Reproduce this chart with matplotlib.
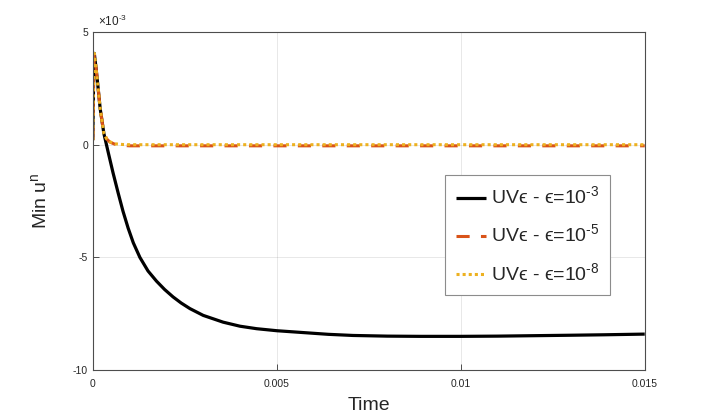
#!/usr/bin/env python3
"""Min u^n over time for three epsilon values (MATLAB-style line plot)."""

import matplotlib
matplotlib.use("Agg")
import matplotlib.pyplot as plt

# ---------------------------------------------------------------------------
# Data (time in ms, values in units of 1e-3)
# ---------------------------------------------------------------------------

t_eps3 = [0, 0.02, 0.04, 0.08, 0.12, 0.2, 0.3, 0.42, 0.55, 0.69, 0.82,
          0.96, 1.1, 1.28, 1.5, 1.73, 1.95, 2.18, 2.4, 2.64, 3.0, 3.54,
          4.0, 4.45, 5.0, 5.7, 6.4, 7.07, 8.0, 8.9, 10.0, 11.0, 12.0,
          13.0, 13.9, 15.0]
u_eps3 = [0.2, 2.8, 4.05, 3.5, 2.9, 1.6, 0.5, -0.35, -1.25, -2.15, -2.95,
          -3.7, -4.35, -5.0, -5.6, -6.05, -6.42, -6.75, -7.02, -7.27, -7.57,
          -7.87, -8.05, -8.16, -8.25, -8.33, -8.41, -8.46, -8.49, -8.5,
          -8.5, -8.49, -8.47, -8.45, -8.43, -8.4]

t_eps5 = [0, 0.02, 0.04, 0.08, 0.12, 0.2, 0.3, 0.38, 0.46, 0.6, 0.8, 1.0,
          2.0, 4.0, 6.0, 8.0, 10.0, 12.0, 15.0]
u_eps5 = [0.2, 2.8, 4.05, 3.5, 2.9, 1.6, 0.5, 0.25, 0.12, 0.02, -0.03,
          -0.05, -0.05, -0.05, -0.05, -0.05, -0.05, -0.05, -0.05]

t_eps8 = [0, 0.02, 0.04, 0.08, 0.12, 0.2, 0.3, 0.38, 0.46, 0.6, 0.8, 1.0,
          2.0, 4.0, 6.0, 8.0, 10.0, 12.0, 15.0]
u_eps8 = [0.2, 2.8, 4.05, 3.5, 2.9, 1.6, 0.5, 0.25, 0.13, 0.04, 0.01,
          0.0, 0.0, 0.0, 0.0, 0.0, 0.0, 0.0, 0.0]

labels = ['UV\u03f5 - \u03f5=10$^{\\text{-3}}$',
          'UV\u03f5 - \u03f5=10$^{\\text{-5}}$',
          'UV\u03f5 - \u03f5=10$^{\\text{-8}}$']

x_ticks = [0, 0.005, 0.01, 0.015]
x_ticklabels = ['0', '0.005', '0.01', '0.015']
y_ticks = [5, 0, -5, -10]
y_ticklabels = ['5', '0', '-5', '-10']

# ---------------------------------------------------------------------------
# Figure
# ---------------------------------------------------------------------------

plt.rcParams['font.family'] = ['Liberation Sans', 'DejaVu Sans']
plt.rcParams['mathtext.fontset'] = 'custom'
plt.rcParams['mathtext.rm'] = 'Liberation Sans'
plt.rcParams['axes.unicode_minus'] = False

TXT = '#262626'
AX = '#4d4d4d'

fig = plt.figure(figsize=(7.14, 4.15), dpi=100)
ax = fig.add_axes([0.130, 0.108, 0.773, 0.815])

ax.plot([t * 1e-3 for t in t_eps3], u_eps3, color='black', lw=2.3,
        label=labels[0], solid_capstyle='butt', solid_joinstyle='round')
ax.plot([t * 1e-3 for t in t_eps5], u_eps5, color='#D95319', lw=2.2,
        linestyle=(0, (4.3, 3.7)), dash_capstyle='butt', label=labels[1])
ax.plot([t * 1e-3 for t in t_eps8], u_eps8, color='#EDB120', lw=2.2,
        linestyle=(0, (1, 1)), dash_capstyle='butt', label=labels[2])

ax.set_xlim(0, 0.015)
ax.set_ylim(-10, 5)
ax.set_xticks(x_ticks)
ax.set_xticklabels(x_ticklabels)
ax.set_yticks(y_ticks)
ax.set_yticklabels(y_ticklabels)
ax.tick_params(direction='in', length=4, width=0.7, colors=AX,
               labelcolor=TXT, labelsize=7.5, top=False, right=False)
ax.tick_params(axis='x', pad=6)
for side in ax.spines.values():
    side.set_color(AX)
    side.set_linewidth(0.8)

ax.grid(True, color='#262626', alpha=0.12, lw=0.6)
ax.set_axisbelow(True)

ax.set_xlabel('Time', fontsize=14, color=TXT, labelpad=6)
ax.set_ylabel('Min u$^{\\text{n}}$', fontsize=14, color=TXT, labelpad=16)
ax.text(0.01, 1.008, '\u00d710$^{\\text{-3}}$', transform=ax.transAxes,
        fontsize=8.5, color=TXT, ha='left', va='bottom')

leg = ax.legend(loc='upper left', bbox_to_anchor=(0.638, 0.577),
                fontsize=14, frameon=True, fancybox=False, framealpha=1,
                edgecolor='#8c8c8c', handlelength=1.55, handletextpad=0.28,
                borderpad=0.55, labelspacing=0.8, borderaxespad=0)
leg.get_frame().set_linewidth(0.8)
for txt in leg.get_texts():
    txt.set_color(TXT)

fig.savefig('out.png', dpi=100)
